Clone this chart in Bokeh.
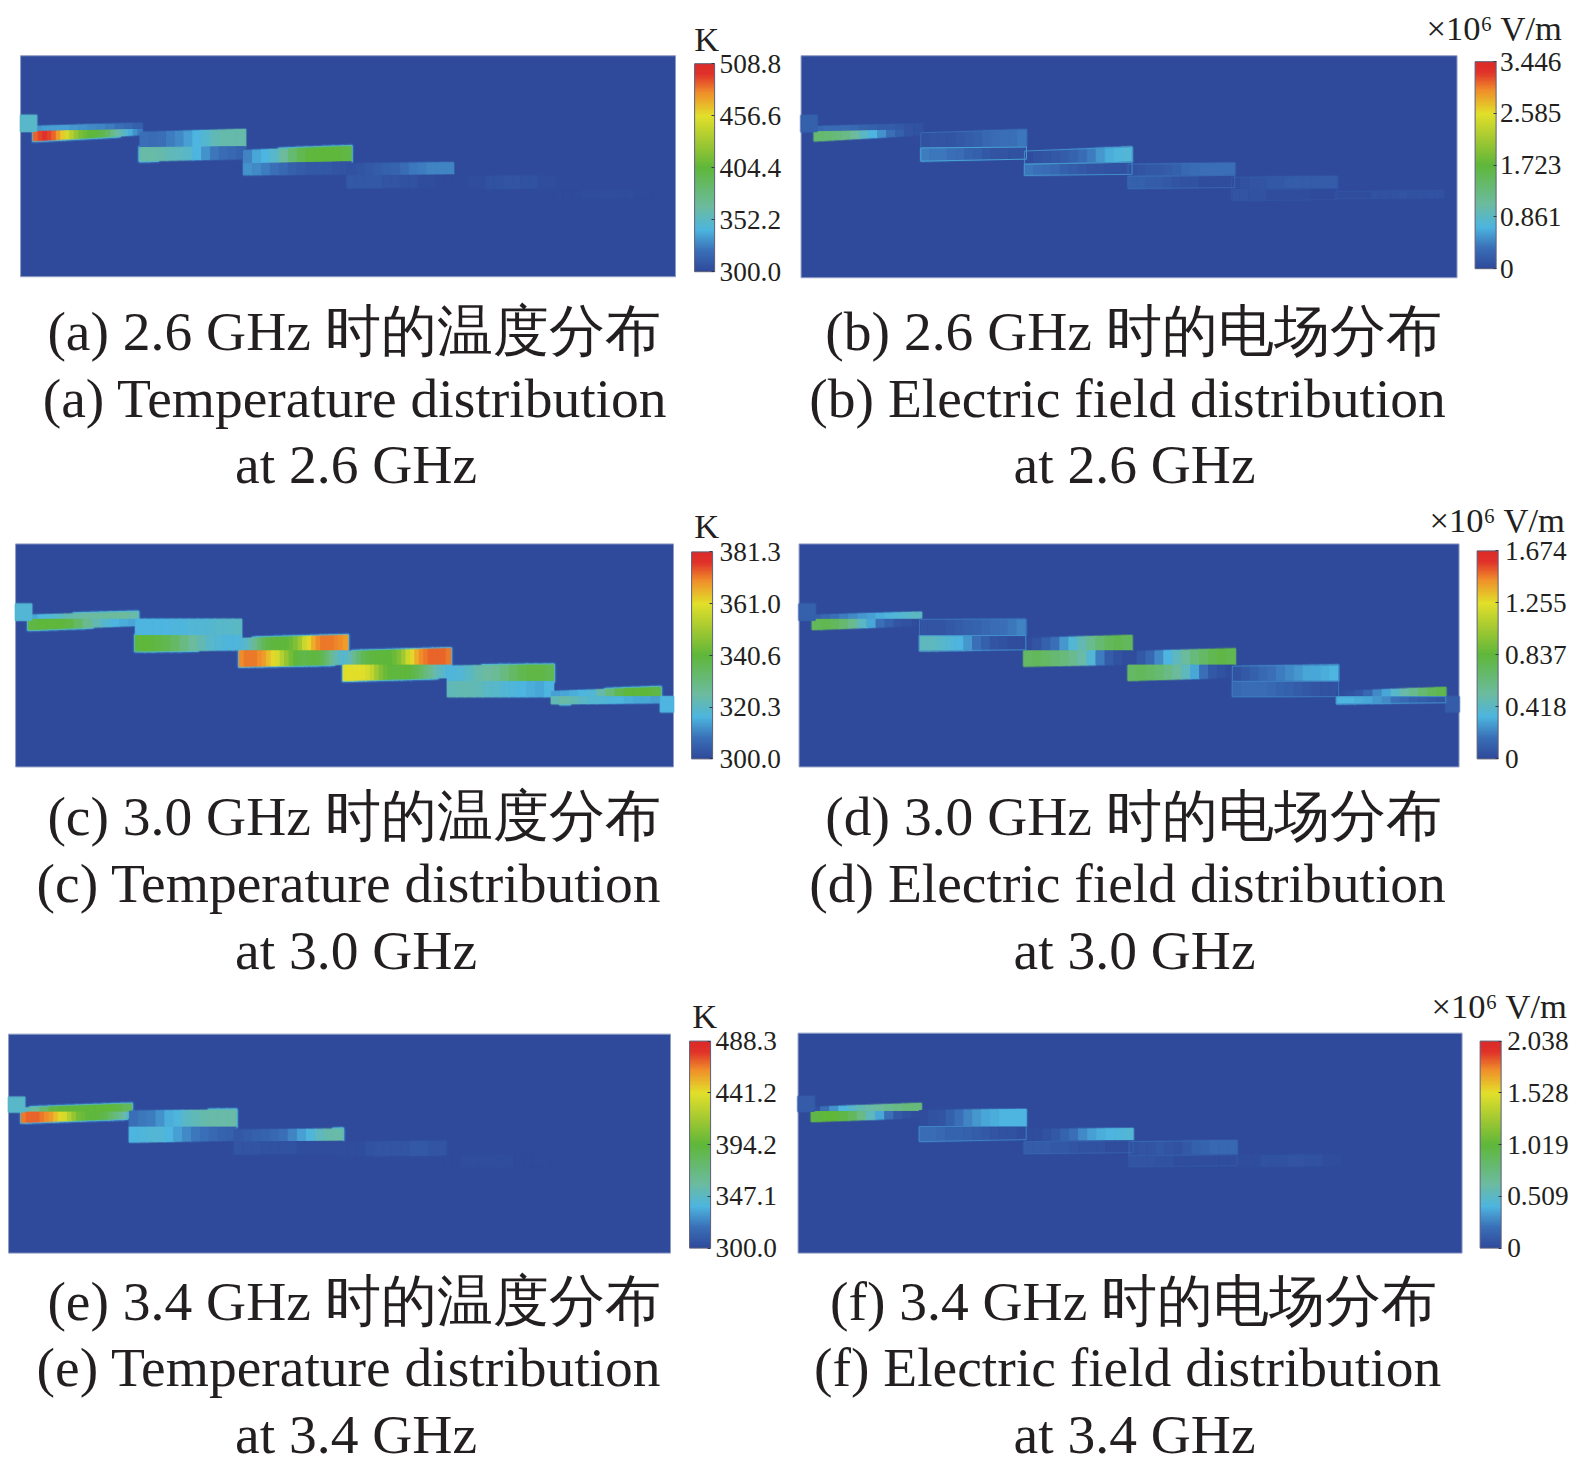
from bokeh.embed import file_html
from bokeh.resources import INLINE
from bokeh.models import ColorBar, ColumnDataSource, FixedTicker, LinearColorMapper, Range1d
from bokeh.plotting import figure

# ---------- domain: staircase plates along the waveguide (length units across a 652 x 219 section)
PLATE_X = [(13, 121), (119, 224), (222, 329), (325, 431), (428, 533), (531, 639)]
ENTRY_X = (0, 16)
EXIT_X = (639, 652)

# plate y: top L/R, mid L/R, bottom L/R
Y_26 = [(70, 67, 75, 73, 84, 78), (76, 73, 91, 90, 104, 102), (94, 90, 107, 105, 118, 117),
        (107, 106, 119, 118, 131, 130), (120, 119, 132, 131, 143, 142), (134, 133, 141, 140, 150, 149)]
Y_30 = [(70, 67, 74, 74, 84, 80), (74, 74, 90, 90, 105, 104), (93, 90, 105, 105, 120, 118),
        (106, 103, 119, 119, 134, 131), (120, 119, 135, 135, 150, 150), (145, 141, 150, 150, 157, 156)]
Y_34 = [(74, 70, 78, 78, 88, 84), (77, 76, 93, 93, 108, 106), (96, 95, 108, 107, 120, 119),
        (108, 107, 122, 121, 133, 132), (122, 121, 133, 132, 142, 141), (134, 133, 142, 141, 148, 147)]
ENTRY_Y_26, ENTRY_Y_30, ENTRY_Y_34 = (59, 75), (59, 75), (63, 78)
EXIT_Y_30 = (150, 165)

# ---------- field samples, percent of each colour scale
A_UPPER = [[16, 17, 17, 17, 16, 15, 14, 13, 12, 10, 8, 6],
           [10, 9, 10, 12, 14, 17, 20, 23, 27, 29, 29, 29],
           [13, 18, 20, 24, 32, 40, 46, 50, 50, 50, 50, 48],
           [2, 3, 4, 5, 6, 7, 9, 11, 12, 13, 13, 13],
           [0, 0, 1, 1, 2, 2, 3, 3, 2, 2, 1, 1],
           [0, 0, 0, 1, 1, 1, 1, 1, 1, 0, 0, 0]]
A_LOWER = [[90, 93, 95, 93, 90, 84, 78, 72, 66, 60, 55, 52, 50, 50, 48, 46, 42, 36, 31, 27, 23, 19, 15, 12],
           [30, 30, 29, 27, 26, 24, 20, 15, 11, 9, 8, 7],
           [15, 14, 12, 10, 8, 6, 5, 4, 4, 4, 3, 3],
           [4, 4, 4, 4, 3, 3, 2, 2, 1, 1, 0, 0],
           [0], [0]]
A_ENTRY = 24

B_UPPER = [[8, 9, 9, 9, 8, 7, 6, 5, 5, 4, 3, 2],
           [2, 3, 3, 3, 4, 5, 6, 8, 9, 10, 10, 11],
           [1, 2, 3, 4, 5, 7, 9, 12, 16, 19, 21, 22],
           [2, 3, 4, 4, 5, 6, 8, 9, 10, 10, 10, 10],
           [1, 2, 3, 3, 4, 4, 5, 5, 5, 5, 5, 5],
           [1, 1, 1, 1, 2, 2, 2, 3, 2, 2, 2, 2]]
B_LOWER = [[40, 40, 38, 36, 32, 25, 20, 15, 10, 6, 3, 2],
           [12, 11, 11, 10, 9, 7, 6, 4, 3, 3, 2, 2],
           [11, 10, 9, 8, 6, 5, 4, 3, 3, 2, 2, 2],
           [6, 6, 5, 5, 4, 3, 2, 2, 1, 1, 1, 1],
           [3, 3, 2, 2, 1, 1, 1, 1, 1, 0, 0, 0],
           [0]]
B_RIM_UPPER = [0, 10, 16, 10, 5, 3]
B_RIM_LOWER = [0, 19, 16, 8, 3, 0]
B_ENTRY = 6

C_UPPER = [[18, 20, 22, 25, 28, 30, 31, 31, 32, 32, 32, 30],
           [20, 20, 20, 20, 21, 21, 22, 22, 23, 24, 24, 25],
           [22, 24, 28, 34, 40, 45, 48, 49, 50, 50, 50, 52, 56, 62, 70, 76, 82, 86, 88, 88, 88, 87, 86, 84],
           [24, 28, 34, 40, 45, 48, 49, 50, 50, 50, 50, 52, 56, 62, 70, 76, 82, 86, 88, 90, 90, 90, 90, 88],
           [21, 22, 25, 29, 31, 33, 37, 42, 46, 48, 48, 46],
           [17, 18, 19, 20, 22, 29, 38, 46, 50, 50, 50, 48]]
C_LOWER = [[48, 50, 50, 50, 48, 42, 34, 28, 23, 20, 19, 18],
           [50, 50, 48, 46, 42, 37, 32, 28, 24, 22, 21, 21],
           [86, 88, 88, 88, 86, 84, 80, 76, 72, 66, 60, 54, 50, 48, 47, 48, 49, 48, 45, 40, 34, 28, 24, 22],
           [74, 75, 75, 75, 74, 72, 68, 62, 56, 52, 50, 49, 49, 50, 50, 48, 46, 42, 38, 34, 30, 26, 24, 20],
           [27, 28, 28, 27, 25, 24, 22, 21, 20, 19, 18, 20],
           [28, 30, 28, 25, 23, 22, 21, 20, 19, 18, 18, 17]]
C_ENTRY = 22
C_EXIT = 20

D_UPPER = [[6, 8, 10, 12, 14, 16, 17, 19, 21, 22, 24, 25],
           [3, 3, 3, 4, 5, 6, 7, 8, 9, 10, 11, 13],
           [1, 3, 6, 10, 16, 22, 28, 34, 40, 44, 46, 44],
           [1, 4, 8, 14, 20, 26, 32, 38, 42, 46, 48, 46],
           [2, 4, 6, 8, 10, 12, 14, 16, 18, 18, 19, 20],
           [1, 2, 4, 8, 14, 18, 24, 30, 34, 40, 44, 46]]
D_LOWER = [[44, 46, 44, 40, 34, 25, 18, 10, 6, 3, 2, 1],
           [26, 26, 24, 22, 20, 16, 10, 6, 3, 2, 1, 1],
           [42, 44, 42, 40, 38, 34, 30, 22, 12, 5, 2, 1],
           [42, 44, 42, 40, 36, 32, 26, 18, 10, 4, 2, 1],
           [8, 9, 9, 9, 8, 7, 6, 5, 4, 3, 2, 2],
           [20, 20, 19, 18, 16, 14, 10, 8, 6, 5, 4, 3]]
D_RIM_UPPER = [0, 11, 0, 0, 14, 0]
D_RIM_LOWER = [0, 16, 0, 0, 12, 16]
D_ENTRY = 6
D_EXIT = 5

E_UPPER = [[26, 32, 40, 48, 50, 50, 50, 50, 50, 50, 48, 44],
           [10, 11, 12, 15, 19, 21, 25, 27, 29, 30, 30, 30],
           [4, 5, 6, 7, 8, 10, 13, 17, 21, 26, 29, 30],
           [1, 1, 1, 2, 3, 3, 3, 3, 4, 4, 3, 3],
           [0, 0, 1, 1, 1, 1, 1, 1, 0, 0, 0, 0],
           [0]]
E_LOWER = [[88, 90, 90, 90, 88, 86, 84, 80, 76, 72, 66, 60, 54, 52, 50, 50, 49, 48, 46, 42, 38, 34, 30, 24],
           [20, 21, 22, 22, 20, 17, 14, 11, 10, 8, 7, 6],
           [3, 3, 3, 2, 2, 2, 2, 1, 1, 1, 1, 1],
           [0], [0], [0]]
E_ENTRY = 24

F_UPPER = [[2, 10, 15, 20, 24, 28, 30, 32, 34, 36, 38, 38],
           [1, 2, 3, 6, 10, 13, 16, 18, 19, 20, 20, 20],
           [1, 1, 2, 4, 7, 10, 14, 17, 19, 20, 21, 22],
           [2, 3, 3, 4, 3, 2, 4, 6, 7, 8, 8, 8],
           [1, 1, 1, 2, 2, 2, 3, 3, 2, 2, 1, 1],
           [0]]
F_LOWER = [[48, 50, 50, 48, 44, 36, 26, 18, 10, 4, 2, 1],
           [9, 9, 8, 7, 7, 6, 5, 4, 3, 2, 2, 1],
           [5, 5, 5, 4, 4, 3, 2, 2, 2, 1, 1, 1],
           [3, 3, 3, 2, 2, 1, 1, 1, 1, 1, 1, 1],
           [0], [0]]
F_RIM_UPPER = [0, 0, 0, 8, 0, 0]
F_RIM_LOWER = [0, 14, 7, 4, 0, 0]
F_ENTRY = 5

# ---------- colour scales
A_TICKS = ["300.0", "352.2", "404.4", "456.6", "508.8"]
B_TICKS = ["0", "0.861", "1.723", "2.585", "3.446"]
C_TICKS = ["300.0", "320.3", "340.6", "361.0", "381.3"]
D_TICKS = ["0", "0.418", "0.837", "1.255", "1.674"]
E_TICKS = ["300.0", "347.1", "394.2", "441.2", "488.3"]
F_TICKS = ["0", "0.509", "1.019", "1.528", "2.038"]

# ---------- captions
A_CAPTION = ["(a) 2.6 GHz 时的温度分布", "(a) Temperature distribution", "at 2.6 GHz"]
B_CAPTION = ["(b) 2.6 GHz 时的电场分布", "(b) Electric field distribution", "at 2.6 GHz"]
C_CAPTION = ["(c) 3.0 GHz 时的温度分布", "(c) Temperature distribution", "at 3.0 GHz"]
D_CAPTION = ["(d) 3.0 GHz 时的电场分布", "(d) Electric field distribution", "at 3.0 GHz"]
E_CAPTION = ["(e) 3.4 GHz 时的温度分布", "(e) Temperature distribution", "at 3.4 GHz"]
F_CAPTION = ["(f) 3.4 GHz 时的电场分布", "(f) Electric field distribution", "at 3.4 GHz"]
KELVIN = "K"
FIELD_UNIT = "×10⁶ V/m"

FONT = "'Liberation Serif', 'Noto Sans CJK SC', serif"
INK = "#231f20"
STOPS = [(0.0, "#2f4a9b"), (0.10, "#3a70b8"), (0.20, "#4db5df"), (0.31, "#6cbba0"),
         (0.50, "#5fb73a"), (0.62, "#a0c832"), (0.75, "#e2e02a"), (0.86, "#f0902a"),
         (0.95, "#e0322a"), (1.0, "#dc2a28")]


def build_palette():
    out = []
    for i in range(256):
        t = i / 255
        for (t0, c0), (t1, c1) in zip(STOPS, STOPS[1:]):
            if t <= t1:
                f = (t - t0) / (t1 - t0)
                rgb = [round(int(c0[j:j + 2], 16) * (1 - f) + int(c1[j:j + 2], 16) * f) for j in (1, 3, 5)]
                out.append("#%02x%02x%02x" % tuple(rgb))
                break
    return out


PALETTE = build_palette()
X_SPAN, Y_SPAN = 652, 219
PAGE_W, PAGE_H = 1575, 1470
S = 1.0045  # read-off to page pixels

p = figure(output_backend="svg", toolbar_location=None, x_axis_location=None, y_axis_location=None,
           width=PAGE_W, height=PAGE_H, min_border=0, x_range=Range1d(0, PAGE_W), y_range=Range1d(PAGE_H, 0),
           background_fill_color="white", border_fill_color="white", outline_line_color=None)
p.grid.visible = False


def band_cells(plate, y_geom, samples, upper):
    x0, x1 = plate
    tl, tr, ml, mr, bl, br = y_geom
    a_l, a_r, b_l, b_r = (tl, tr, ml, mr) if upper else (ml, mr, bl, br)
    n = len(samples)
    xs, ys, vals = [], [], []
    for k, v in enumerate(samples):
        f0, f1 = k / n, (k + 1) / n
        xa, xb = x0 + (x1 - x0) * f0, x0 + (x1 - x0) * f1
        xs.append([xa, xb, xb, xa])
        ys.append([a_l + (a_r - a_l) * f0, a_l + (a_r - a_l) * f1,
                   b_l + (b_r - b_l) * f1, b_l + (b_r - b_l) * f0])
        vals.append(v)
    return xs, ys, vals


def text(x, y, s, size, align="center"):
    p.text([x * S], [y * S], [s], text_font=FONT, text_font_size=size, text_color=INK,
           text_align=align, text_baseline="middle")


def panel(name, upper, lower, y_geom, entry_y, entry_val, ticks, caption, unit, frame, bar, cap_x, cap_y,
          unit_pos, standoff, rims=None, exit_y=None, exit_val=None):
    fl, ft, fw, fh = [v * S for v in frame]
    p.extra_x_ranges[name] = Range1d(-fl / fw * X_SPAN, (PAGE_W - fl) / fw * X_SPAN)
    p.extra_y_ranges[name] = Range1d((PAGE_H - ft) / fh * Y_SPAN, -ft / fh * Y_SPAN)
    on = dict(x_range_name=name, y_range_name=name)

    low, high = float(ticks[0]), float(ticks[-1])
    mapper = LinearColorMapper(palette=PALETTE, low=low, high=high)
    to_real = lambda pct: low + pct / 100 * (high - low)

    p.quad(left=[0], right=[X_SPAN], top=[0], bottom=[Y_SPAN], fill_color=PALETTE[0],
           line_color="#8f9cc4", line_width=1, line_join="round", **on)

    all_x, all_y, all_v = [], [], []
    hot_x, hot_y = [], []
    rim_x, rim_y, rim_v = [], [], []
    for i, plate in enumerate(PLATE_X):
        for is_up, bands in ((True, upper), (False, lower)):
            xs, ys, vs = band_cells(plate, y_geom[i], bands[i], is_up)
            if max(bands[i]) > 0:
                all_x += xs; all_y += ys; all_v += vs
            if rims is None:
                for x_, y_, v_ in zip(xs, ys, vs):
                    if v_ >= 30:
                        hot_x.append(x_); hot_y.append(y_)
            else:
                rv = rims[0 if is_up else 1][i]
                if rv > 0:
                    x0, x1 = plate
                    tl, tr, ml, mr, bl, br = y_geom[i]
                    a_l, a_r, b_l, b_r = (tl, tr, ml, mr) if is_up else (ml, mr, bl, br)
                    rim_x.append([x0, x1, x1, x0]); rim_y.append([a_l, a_r, b_r, b_l]); rim_v.append(rv)
    all_x.append([ENTRY_X[0], ENTRY_X[1], ENTRY_X[1], ENTRY_X[0]])
    all_y.append([entry_y[0], entry_y[0], entry_y[1], entry_y[1]])
    all_v.append(entry_val)
    if exit_y is not None:
        all_x.append([EXIT_X[0], EXIT_X[1], EXIT_X[1], EXIT_X[0]])
        all_y.append([exit_y[0], exit_y[0], exit_y[1], exit_y[1]])
        all_v.append(exit_val)

    if hot_x:
        hs = ColumnDataSource(dict(xs=hot_x, ys=hot_y))
        p.patches("xs", "ys", source=hs, fill_color="#3a70b8", line_color="#3a70b8", line_width=6,
                  line_alpha=0.6, line_join="round", **on)
        p.patches("xs", "ys", source=hs, fill_color="#4db5df", line_color="#4db5df", line_width=3.5,
                  line_join="round", **on)
    src = ColumnDataSource(dict(xs=all_x, ys=all_y, v=[to_real(v) for v in all_v]))
    cmap = {"field": "v", "transform": mapper}
    # soft edge, then the cells themselves
    p.patches("xs", "ys", source=src, fill_alpha=0, line_color=cmap, line_width=3, line_alpha=0.35, **on)
    p.patches("xs", "ys", source=src, fill_color=cmap, line_color=cmap, line_width=1, **on)
    if rim_x:
        rs = ColumnDataSource(dict(xs=rim_x, ys=rim_y, v=[to_real(v) for v in rim_v]))
        p.patches("xs", "ys", source=rs, fill_alpha=0, line_color=cmap, line_width=1, line_alpha=0.85, **on)

    bl, bt, bw, bh = [v * S for v in bar]
    tick_vals = [float(t) for t in ticks]
    cb = ColorBar(color_mapper=mapper, width=round(bw), height=round(bh),
                  location=(bl, PAGE_H - bt - bh),
                  ticker=FixedTicker(ticks=tick_vals),
                  major_label_overrides=dict(zip(tick_vals, ticks)),
                  major_label_text_font=FONT, major_label_text_font_size="27.3px",
                  major_label_text_color=INK, label_standoff=standoff,
                  major_tick_line_color="#33384f", major_tick_in=3, minor_tick_line_color=None,
                  bar_line_color="#5c5f78", bar_line_width=1, padding=0, margin=0,
                  background_fill_alpha=0, border_line_color=None)
    p.add_layout(cb, "center")

    for cx, cy, line in zip(cap_x, cap_y, caption):
        text(cx, cy, line, "55.5px")
    text(unit_pos[0], unit_pos[1], unit, "34.5px", unit_pos[2])


panel("a", A_UPPER, A_LOWER, Y_26, ENTRY_Y_26, A_ENTRY, A_TICKS, A_CAPTION, KELVIN,
      frame=(20, 55, 652, 220), bar=(691, 63, 20, 207),
      cap_x=[352, 353, 354], cap_y=[330, 396, 462], unit_pos=(703, 38, "center"), standoff=5)
panel("b", B_UPPER, B_LOWER, Y_26, ENTRY_Y_26, B_ENTRY, B_TICKS, B_CAPTION, FIELD_UNIT,
      frame=(797, 55, 653, 221), bar=(1468, 61, 21, 206),
      cap_x=[1128, 1122, 1129], cap_y=[330, 396, 462], unit_pos=(1555, 27, "right"), standoff=4,
      rims=(B_RIM_UPPER, B_RIM_LOWER))
panel("c", C_UPPER, C_LOWER, Y_30, ENTRY_Y_30, C_ENTRY, C_TICKS, C_CAPTION, KELVIN,
      frame=(15, 541, 655, 222), bar=(688, 549, 21, 206),
      cap_x=[352, 347, 354], cap_y=[812, 879, 946], unit_pos=(703, 523, "center"), standoff=7,
      exit_y=EXIT_Y_30, exit_val=C_EXIT)
panel("d", D_UPPER, D_LOWER, Y_30, ENTRY_Y_30, D_ENTRY, D_TICKS, D_CAPTION, FIELD_UNIT,
      frame=(795, 541, 657, 222), bar=(1470, 548, 21, 207),
      cap_x=[1128, 1122, 1129], cap_y=[812, 879, 946], unit_pos=(1558, 517, "right"), standoff=7,
      rims=(D_RIM_UPPER, D_RIM_LOWER), exit_y=EXIT_Y_30, exit_val=D_EXIT)
panel("e", E_UPPER, E_LOWER, Y_34, ENTRY_Y_34, E_ENTRY, E_TICKS, E_CAPTION, KELVIN,
      frame=(8, 1029, 659, 218), bar=(686, 1036, 21, 206),
      cap_x=[352, 347, 354], cap_y=[1295, 1361, 1428], unit_pos=(701, 1011, "center"), standoff=5)
panel("f", F_UPPER, F_LOWER, Y_34, ENTRY_Y_34, F_ENTRY, F_TICKS, F_CAPTION, FIELD_UNIT,
      frame=(794, 1028, 661, 219), bar=(1473, 1036, 21, 206),
      cap_x=[1128, 1122, 1129], cap_y=[1295, 1361, 1428], unit_pos=(1560, 1001, "right"), standoff=6,
      rims=(F_RIM_UPPER, F_RIM_LOWER))

open("out.html", "w").write(file_html(p, INLINE))
